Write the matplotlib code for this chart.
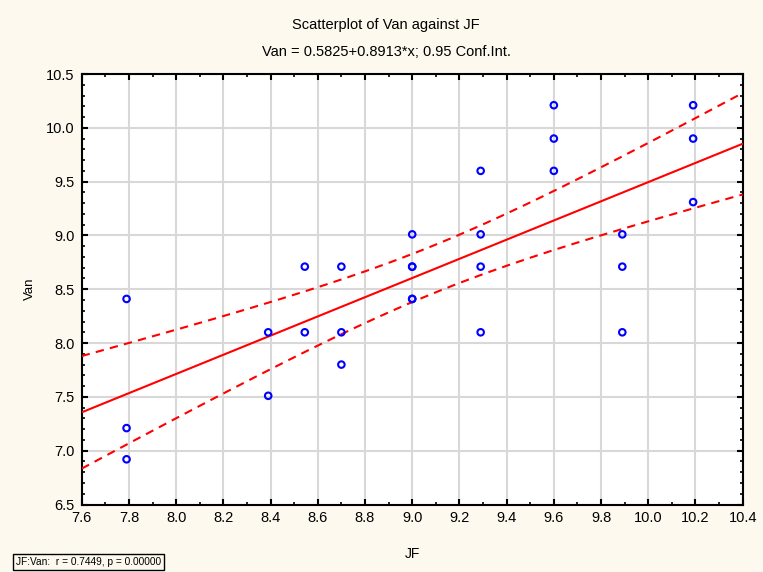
import numpy as np
import matplotlib
matplotlib.use("Agg")
import matplotlib.pyplot as plt
from matplotlib.ticker import MultipleLocator, FormatStrFormatter

plt.rcParams['font.family'] = ['Liberation Sans', 'DejaVu Sans']

jf = [7.79, 7.79, 7.79,
      8.39, 8.39,
      8.545, 8.545,
      8.70, 8.70, 8.70,
      9.00, 9.00, 9.00, 9.00, 9.00,
      9.29, 9.29, 9.29, 9.29,
      9.60, 9.60, 9.60,
      9.89, 9.89, 9.89,
      10.19, 10.19, 10.19]
van = [8.41, 7.21, 6.92,
       8.10, 7.51,
       8.71, 8.10,
       8.71, 8.10, 7.80,
       9.01, 8.71, 8.71, 8.41, 8.41,
       9.60, 9.01, 8.71, 8.10,
       10.21, 9.90, 9.60,
       9.01, 8.71, 8.10,
       10.21, 9.90, 9.31]

intercept = 0.5825
slope = 0.8913
title1 = "Scatterplot of Van against JF"
title2 = "Van = 0.5825+0.8913*x; 0.95 Conf.Int."
stat_text = "JF:Van:  r = 0.7449, p = 0.00000"

x = np.array(jf)
y = np.array(van)
n = len(x)
xx = np.linspace(7.6, 10.4, 200)
yy = intercept + slope * xx
resid = y - (intercept + slope * x)
s = np.sqrt(np.sum(resid ** 2) / (n - 2))
sxx = np.sum((x - x.mean()) ** 2)
t = 2.056  # approx t(0.975, df~26)
half = t * s * np.sqrt(1.0 / n + (xx - x.mean()) ** 2 / sxx)

bg = '#FDF9EE'
fig = plt.figure(figsize=(7.63, 5.72), dpi=100, facecolor=bg)
ax = fig.add_axes([81.7 / 763, 1 - 504.5 / 572, (742.7 - 81.7) / 763, (504.5 - 74) / 572])
ax.set_facecolor('white')

ax.grid(True, color='#D8D8D8', linewidth=1.5, zorder=0)
ax.set_axisbelow(True)

ax.plot(xx, yy, color='#FF0000', linewidth=1.5, zorder=3)
ax.plot(xx, yy + half, color='#FF0000', linewidth=1.5, linestyle=(0, (4, 3)), zorder=3)
ax.plot(xx, yy - half, color='#FF0000', linewidth=1.5, linestyle=(0, (4, 3)), zorder=3)
ax.scatter(x, y, s=22, facecolors='none', edgecolors='#0000FF', linewidths=1.5, zorder=4)

ax.set_xlim(7.6, 10.4)
ax.set_ylim(6.5, 10.5)
ax.xaxis.set_major_locator(MultipleLocator(0.2))
ax.xaxis.set_minor_locator(MultipleLocator(0.1))
ax.yaxis.set_major_locator(MultipleLocator(0.5))
ax.yaxis.set_minor_locator(MultipleLocator(0.1))
ax.xaxis.set_major_formatter(FormatStrFormatter('%.1f'))
ax.yaxis.set_major_formatter(FormatStrFormatter('%.1f'))
ax.tick_params(which='both', direction='in', top=True, right=True, color='black')
ax.tick_params(which='major', length=4, width=1.5, labelsize=10.5, pad=5)
ax.tick_params(which='minor', length=2.5, width=1.2)
for sp in ax.spines.values():
    sp.set_linewidth(1.5)
    sp.set_color('black')

ax.set_xlabel('JF', fontsize=10)
ax.set_ylabel('Van', fontsize=9.5)
ax.xaxis.set_label_coords(0.5, -0.098)
ax.yaxis.set_label_coords(-0.069, 0.5)

fig.text(386 / 763, 1 - 25 / 572, title1, ha='center', va='center', fontsize=10.5)
fig.text(386 / 763, 1 - 52 / 572, title2, ha='center', va='center', fontsize=10.5)
fig.text(16 / 763, 1 - 562 / 572, stat_text, ha='left', va='center', fontsize=7.3,
         bbox=dict(boxstyle='square,pad=0.25', facecolor=bg, edgecolor='black', linewidth=1))

fig.savefig('out.png', dpi=100, facecolor=bg)
